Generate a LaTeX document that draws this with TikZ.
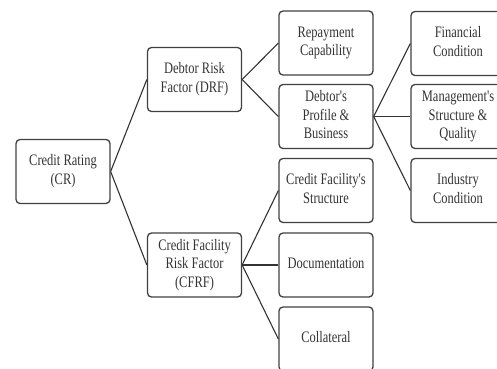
\documentclass[tikz,border=0pt]{standalone}
\usepackage{fontspec}
\setmainfont{Liberation Serif}
\usepackage{graphicx}
\newcommand\boxtext[1]{\scalebox{0.78}[1]{\begin{tabular}{@{}c@{}}#1\end{tabular}}}
\begin{document}
\begin{tikzpicture}[x=1pt,y=-1pt,
  box/.style={draw=black!75, line width=1.3pt, rounded corners=4pt,
    minimum width=94pt, minimum height=64pt, inner sep=0pt,
    text=black!80, font=\fontsize{16}{18.5}\selectfont},
  link/.style={draw=black!80, line width=1.1pt}]
\useasboundingbox (0,0) rectangle (497,368);
\node[box] (cr) at (63,171.5) {\boxtext{Credit Rating\\(CR)}};
\node[box] (drf) at (194.5,79.5) {\boxtext{Debtor Risk\\Factor (DRF)}};
\node[box] (cfrf) at (194.5,265) {\boxtext{Credit Facility\\Risk Factor\\(CFRF)}};
\node[box] (rep) at (326,43) {\boxtext{Repayment\\Capability}};
\node[box] (dpb) at (326,116.5) {\boxtext{Debtor\textquotesingle s\\Profile \&\\Business}};
\node[box] (cfs) at (326,190.5) {\boxtext{Credit Facility\textquotesingle s\\Structure}};
\node[box] (doc) at (326,265) {\boxtext{Documentation}};
\node[box] (col) at (326,339) {\boxtext{Collateral}};
\node[box] (fin) at (458,43.5) {\boxtext{Financial\\Condition}};
\node[box] (msq) at (458,116.5) {\boxtext{Management\textquotesingle s\\Structure \&\\Quality}};
\node[box] (ind) at (458,190.5) {\boxtext{Industry\\Condition}};
\draw[link] (cr.east) -- (drf.west);
\draw[link] (cr.east) -- (cfrf.west);
\draw[link] (drf.east) -- (rep.west);
\draw[link] (drf.east) -- (dpb.west);
\draw[link] (dpb.east) -- (fin.west);
\draw[link] (dpb.east) -- (msq.west);
\draw[link] (dpb.east) -- (ind.west);
\draw[link] (cfrf.east) -- (cfs.west);
\draw[link] (cfrf.east) -- (doc.west);
\draw[link] (cfrf.east) -- (col.west);
\end{tikzpicture}
\end{document}
